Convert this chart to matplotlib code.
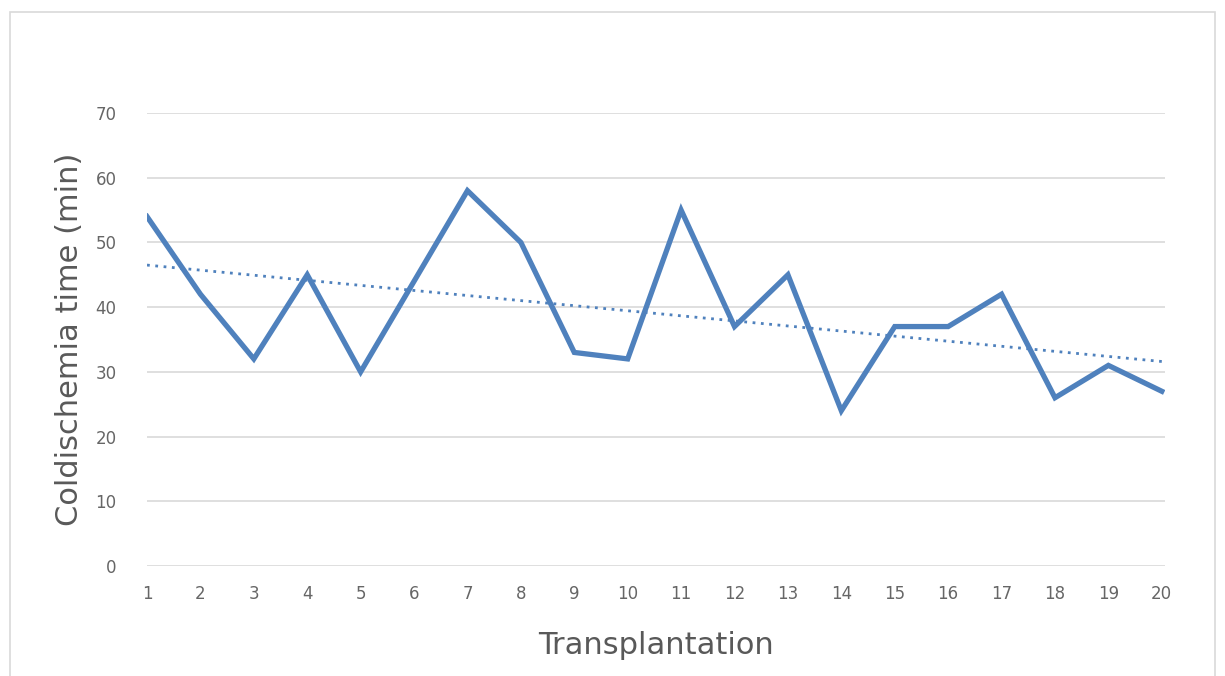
import numpy as np
import matplotlib
matplotlib.use("Agg")
import matplotlib.pyplot as plt
from matplotlib.patches import Rectangle

# Data
transplantation = list(range(1, 21))
cold_ischemia = [54, 42, 32, 45, 30, 44, 58, 50, 33, 32,
                 55, 37, 45, 24, 37, 37, 42, 26, 31, 27]
y_ticks = [0, 10, 20, 30, 40, 50, 60, 70]

line_color = "#4F81BD"
text_color = "#595959"

fig = plt.figure(figsize=(12.25, 6.76), dpi=100)
ax = fig.add_axes([147 / 1225, 1 - 566 / 676, (1165 - 147) / 1225, (566 - 113) / 676])

# Outer chart border
fig.patches.append(Rectangle((10 / 1225, -0.01), 1205 / 1225, 1 - 12 / 676 + 0.01,
                             transform=fig.transFigure, fill=False,
                             edgecolor="#D9D9D9", linewidth=1.2))

ax.plot(transplantation, cold_ischemia, color=line_color, linewidth=3.8,
        solid_joinstyle="miter", zorder=3)

# Linear trend line
x = np.array(transplantation)
slope, intercept = np.polyfit(x, cold_ischemia, 1)
ax.plot(x, slope * x + intercept, color=line_color, linewidth=2, linestyle=(0, (1, 2)),
        zorder=2)

ax.set_xlim(1, 20.06)
ax.set_ylim(0, 70)
ax.set_yticks(y_ticks)
ax.set_xticks(transplantation)
ax.grid(axis="y", color="#D9D9D9", linewidth=1.2)
ax.set_axisbelow(True)
for s in ax.spines.values():
    s.set_visible(False)
ax.tick_params(length=0, colors="#666666", labelsize=12)
ax.tick_params(axis="y", pad=22)
ax.tick_params(axis="x", pad=14)

ax.set_xlabel("Transplantation", fontsize=22, color=text_color, labelpad=20)
ax.set_ylabel("Coldischemia time (min)", fontsize=22, color=text_color, labelpad=8)

fig.savefig("out.png", dpi=100)
